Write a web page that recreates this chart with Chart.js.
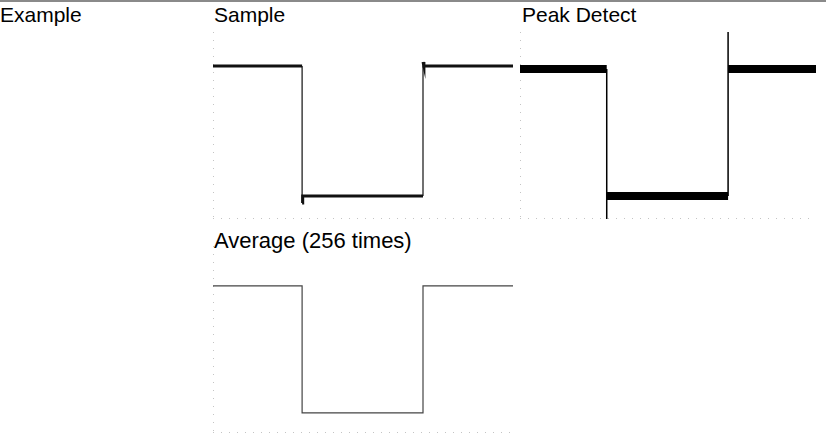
<!DOCTYPE html>
<html>
<head>
<meta charset="utf-8">
<script src="https://cdn.jsdelivr.net/npm/chart.js@4.4.1/dist/chart.umd.min.js"></script>
<style>
  body { margin: 0; background: #fff; width: 826px; height: 439px; overflow: hidden; position: relative;
         font-family: "Liberation Sans", Arial, sans-serif; color: #000; }
  .rule { position: absolute; left: 0; top: 0; width: 826px; height: 2px; background: #8a8a8a; }
  .label { position: absolute; font-size: 21px; line-height: 21px; white-space: nowrap; }
  .plot { position: absolute; }
</style>
</head>
<body>
<div class="rule"></div>
<div class="label" style="left:0px; top:4px;">Example</div>
<div class="label" style="left:214px; top:4px;">Sample</div>
<div class="label" style="left:522px; top:4px;">Peak Detect</div>
<div class="label" style="left:214px; top:230px; font-size:22px;">Average (256 times)</div>

<div class="plot" style="left:203px; top:22px; width:320px; height:207px;"><canvas id="sample-chart"></canvas></div>
<div class="plot" style="left:510px; top:22px; width:316px; height:207px;"><canvas id="peak-chart"></canvas></div>
<div class="plot" style="left:203px; top:236px; width:320px; height:207px;"><canvas id="average-chart"></canvas></div>

<script>
// time in divisions (10 across), level in divisions above the bottom of the screen
const sampleTime  = [0, 2.97, 2.97, 2.99, 7.0, 7.0, 7.03, 10];
const sampleLevel = [5.1, 5.1, 0.53, 0.77, 0.77, 5.23, 5.1, 5.1];

const peakTime  = [0, 2.93, 2.93, 2.93, 7.03, 7.03, 7.03, 10];
const peakLevel = [5.0, 5.0, 0.0, 0.77, 0.77, 6.23, 5.0, 5.0];

const averageTime  = [0, 2.97, 2.97, 7.0, 7.0, 10];
const averageLevel = [4.9, 4.9, 0.67, 0.67, 4.9, 4.9];

const X_MAX = 10;
const Y_MAX = 6.23;

function toPoints(xs, ys) {
  return xs.map((x, i) => ({ x: x, y: ys[i] }));
}

// dotted graticule edges on the left and the bottom of the screen
const dottedEdges = {
  id: "dottedEdges",
  beforeDatasetsDraw(chart) {
    const { ctx, chartArea: a } = chart;
    ctx.save();
    ctx.strokeStyle = "#c4c4c4";
    ctx.lineWidth = 1;
    ctx.setLineDash([1, 7]);
    ctx.beginPath();
    ctx.moveTo(a.left + 0.5, a.top);
    ctx.lineTo(a.left + 0.5, a.bottom);
    ctx.moveTo(a.left, a.bottom - 0.5);
    ctx.lineTo(a.right, a.bottom - 0.5);
    ctx.stroke();
    ctx.restore();
  }
};

function makeScope(id, xs, ys, flatWidth, edgeWidth, color) {
  return new Chart(document.getElementById(id), {
    type: "line",
    data: {
      datasets: [{
        data: toPoints(xs, ys),
        borderColor: color,
        borderWidth: flatWidth,
        pointRadius: 0,
        tension: 0,
        clip: false,
        segment: {
          // vertical edges are thin, the noisy flat parts are thick
          borderWidth: (ctx) => ctx.p0.parsed.x === ctx.p1.parsed.x ? edgeWidth : flatWidth
        }
      }]
    },
    options: {
      responsive: true,
      maintainAspectRatio: false,
      animation: false,
      layout: { padding: { left: 10, top: 10, right: 10, bottom: 10 } },
      scales: {
        x: { type: "linear", min: 0, max: X_MAX, display: false },
        y: { type: "linear", min: 0, max: Y_MAX, display: false }
      },
      plugins: { legend: { display: false }, tooltip: { enabled: false } }
    },
    plugins: [dottedEdges]
  });
}

makeScope("sample-chart", sampleTime, sampleLevel, 3, 1.2, "#111");
makeScope("peak-chart", peakTime, peakLevel, 8, 1.5, "#000");
makeScope("average-chart", averageTime, averageLevel, 1.2, 1.2, "#444");
</script>
</body>
</html>
